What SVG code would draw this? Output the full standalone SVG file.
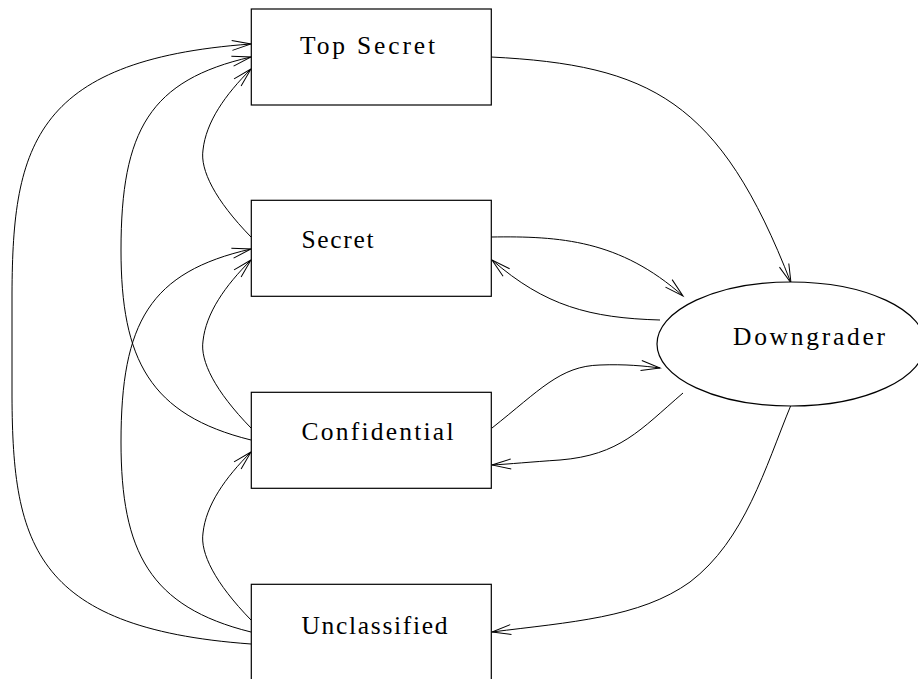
<svg xmlns="http://www.w3.org/2000/svg" width="918" height="679" viewBox="0 0 918 679">
  <defs>
    <marker id="arrow" markerUnits="userSpaceOnUse" markerWidth="24" markerHeight="14" viewBox="-2 -7 24 14" refX="19" refY="0" orient="auto" overflow="visible">
      <path d="M0,-5 L19,0 L0,5" fill="none" stroke="#000" stroke-width="1"/>
    </marker>
  </defs>
  <style>
    .box { fill: #fff; stroke: #000; stroke-width: 1.2; }
    .label { font-family: "Liberation Serif", "DejaVu Serif", serif; font-size: 25.5px; fill: #000; }
    .edge { fill: none; stroke: #000; stroke-width: 1; marker-end: url(#arrow); }
  </style>
  <rect width="918" height="679" fill="#fff"/>

  <!-- connectors -->
  <g id="connectors">
    <!-- left side: upward flows between levels -->
    <path class="edge" d="M251,644 C 30,628 12,540 12,390 L12,300 C 12,150 30,60 251,44"/>
    <path class="edge" d="M251,440 C 150,415 121,360 121,250 C 121,130 150,80 251,57"/>
    <path class="edge" d="M251,632 C 150,607 121,552 121,442 C 121,322 150,272 251,249"/>
    <path class="edge" d="M251,237 C 215,200 200,170 203,150 C 206,122 225,95 251,69"/>
    <path class="edge" d="M251,428 C 215,391 200,361 203,341 C 206,313 225,286 251,260"/>
    <path class="edge" d="M251,620 C 215,583 200,553 203,533 C 206,505 225,478 251,452"/>
    <!-- right side: flows through the downgrader -->
    <path class="edge" d="M491,57 C 650,65 720,100 791,283"/>
    <path class="edge" d="M491,237 C 560,236 620,240 683,296"/>
    <path class="edge" d="M660,320 C 590,318 545,306 492,260"/>
    <path class="edge" d="M492,428 C 540,390 560,366 600,365 C 625,364 645,366 660,368"/>
    <path class="edge" d="M683,393 C 640,430 620,455 560,460 C 530,462 510,464 492,465"/>
    <path class="edge" d="M791,405 C 765,468 745,540 690,582 C 640,618 570,622 492,632"/>
  </g>

  <g id="top-secret">
    <rect class="box" x="251.3" y="9" width="240" height="96"/>
    <text class="label" x="300" y="53.5" textLength="135" lengthAdjust="spacing">Top Secret</text>
  </g>
  <g id="secret">
    <rect class="box" x="251.3" y="200.3" width="240" height="96"/>
    <text class="label" x="301.5" y="247.5" textLength="72" lengthAdjust="spacing">Secret</text>
  </g>
  <g id="confidential">
    <rect class="box" x="251.3" y="392.3" width="240" height="96"/>
    <text class="label" x="301.5" y="440" textLength="152" lengthAdjust="spacing">Confidential</text>
  </g>
  <g id="unclassified">
    <rect class="box" x="251.3" y="584.3" width="240" height="110"/>
    <text class="label" x="301.5" y="633.5" textLength="146" lengthAdjust="spacing">Unclassified</text>
  </g>
  <g id="downgrader">
    <ellipse class="box" cx="791" cy="344" rx="134" ry="62" stroke-width="1"/>
    <text class="label" x="733" y="344.5" textLength="152" lengthAdjust="spacing">Downgrader</text>
  </g>
</svg>
